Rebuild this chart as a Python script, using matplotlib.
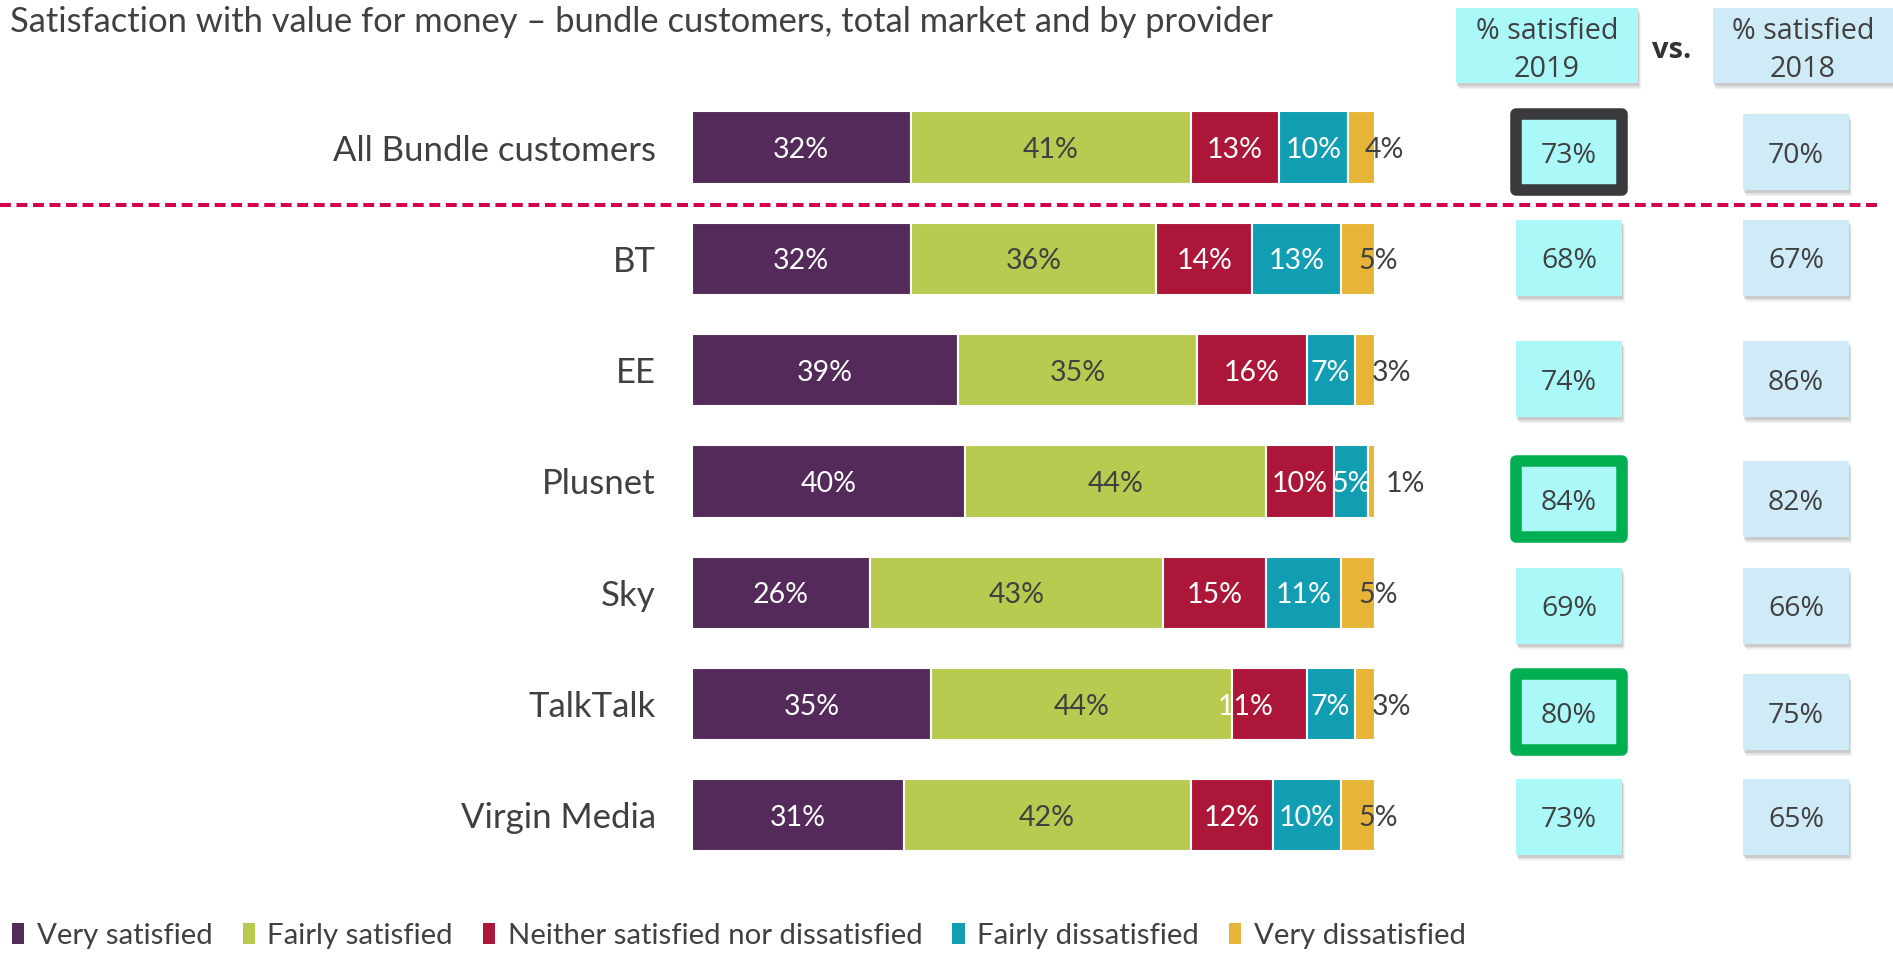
import numpy as np
import matplotlib
matplotlib.use("Agg")
import matplotlib.pyplot as plt
from matplotlib.patches import Rectangle, Patch

plt.rcParams['font.family'] = ['Lato', 'DejaVu Sans']

# data
categories = ["All Bundle customers", "BT", "EE", "Plusnet", "Sky", "TalkTalk", "Virgin Media"]
very_sat = [32, 32, 39, 40, 26, 35, 31]
fairly_sat = [41, 36, 35, 44, 43, 44, 42]
neither = [13, 14, 16, 10, 15, 11, 12]
fairly_dis = [10, 13, 7, 5, 11, 7, 10]
very_dis = [4, 5, 3, 1, 5, 3, 5]
sat_2019 = [73, 68, 74, 84, 69, 80, 73]
sat_2018 = [70, 67, 86, 82, 66, 75, 65]
series_names = ["Very satisfied", "Fairly satisfied", "Neither satisfied nor dissatisfied",
                "Fairly dissatisfied", "Very dissatisfied"]
title = "Satisfaction with value for money \u2013 bundle customers, total market and by provider"

colors = ["#532A5A", "#B8CB50", "#AC1639", "#119DB2", "#E6B437"]
label_colors = ["white", "#404040", "white", "white", "#404040"]
txt = "#404040"
cyan = "#AAF8F8"
light_blue = "#D0EBF8"
highlight = {0: "#3A3A3C", 3: "#00B050", 5: "#00B050"}

W, H = 1893, 958
fig = plt.figure(figsize=(W / 100, H / 100), dpi=100)

# bar axes, layout in pixels
row_top, row_step = 147.5, 111.33
y_top = row_top - row_step / 2
y_bot = row_top + 6 * row_step + row_step / 2
ax = fig.add_axes([692 / W, 1 - y_bot / H, (1375 - 692) / W, (y_bot - y_top) / H])

series = [very_sat, fairly_sat, neither, fairly_dis, very_dis]
y = np.arange(len(categories))
left = np.zeros(len(categories))
nudge = {(5, 2): -3.5}
for j, vals in enumerate(series):
    vals = np.array(vals, dtype=float)
    ax.barh(y, vals, left=left, height=0.647, color=colors[j], edgecolor="white", linewidth=1.5)
    for i, v in enumerate(vals):
        if j == 4:
            ax.text(left[i] + 2.5, i, f"{v:.0f}%", ha="left", va="center_baseline",
                    fontsize=20.5, color=label_colors[j], clip_on=False)
        else:
            ax.text(left[i] + v / 2 + nudge.get((i, j), 0), i, f"{v:.0f}%", ha="center",
                    va="center_baseline", fontsize=20.5, color=label_colors[j])
    left += vals

ax.set_xlim(0, 100)
ax.set_ylim(6.5, -0.5)
ax.set_yticks(y, categories, fontsize=25, color=txt)
ax.tick_params(axis="y", length=0, pad=26)
ax.set_xticks([])
for s in ax.spines.values():
    s.set_visible(False)
ax.patch.set_visible(False)

# overlay axes for boxes, x in pixels, y in rows
bx = fig.add_axes([0, 1 - y_bot / H, 1, (y_bot - y_top) / H])
bx.set_xlim(0, W)
bx.set_ylim(6.5, -0.5)
bx.axis("off")
bx.patch.set_visible(False)

px = 1 / row_step  # one pixel in row units


def box(cx, cy, w, h, face, edge=None, lw=0):
    # soft shadow
    for k, a in [(5, 0.10), (3.5, 0.15), (2, 0.25)]:
        bx.add_patch(Rectangle((cx - w / 2 + k * 0.6, cy - h / 2 * px + k * px + 1 * px),
                               w, h * px, facecolor="#888888", edgecolor="none",
                               alpha=a, clip_on=False, zorder=1))
    bx.add_patch(Rectangle((cx - w / 2, cy - h / 2 * px), w, h * px, facecolor=face,
                           edgecolor=edge if edge else "none", linewidth=lw,
                           joinstyle="round", clip_on=False, zorder=2))


box_dy = [4.5, -1, 9, 18, 13, 8, 1.5]  # vertical offsets of boxes vs bars (px)
for i in range(len(categories)):
    cy = i + box_dy[i] * px
    if i in highlight:
        box(1569, cy, 106.5, 76, cyan, highlight[i], 8.3)
    else:
        box(1569, cy, 106, 76, cyan)
    box(1796, cy, 106, 76, light_blue)
    bx.text(1569, cy, f"{sat_2019[i]}%", ha="center", va="center_baseline", fontsize=20.5,
            color=txt, family="Open Sans", zorder=3, clip_on=False)
    bx.text(1796, cy, f"{sat_2018[i]}%", ha="center", va="center_baseline", fontsize=20.5,
            color=txt, family="Open Sans", zorder=3, clip_on=False)

# headers
hy = -0.5 - (y_top - 45.5) * px
box(1547, hy, 182, 75, cyan)
box(1803, hy, 180, 75, light_blue)
for cx, yr in [(1547, "2019"), (1803, "2018")]:
    bx.text(cx, hy + 5 * px, "% satisfied\n" + yr, ha="center", va="center", fontsize=20.7,
            color=txt, family="Open Sans", linespacing=1.42, zorder=3, clip_on=False)
bx.text(1672, -0.5 - (y_top - 50) * px, "vs.", ha="center", va="center", fontsize=21,
        fontweight="bold", color="#333333", family="Open Sans", clip_on=False)

# dashed separator
bx.plot([0, 1880], [0.52, 0.52], color="#D2004F", linewidth=2.9,
        linestyle=(0, (2.7, 1.4)), clip_on=False, zorder=0)

fig.text(10 / W, 1 - 22 / H, title, ha="left", va="center", fontsize=24.8, color=txt)

handles = [Patch(facecolor=c) for c in colors]
fig.legend(handles, series_names, loc="center left", bbox_to_anchor=(12 / W, 1 - 936 / H),
           ncol=5, frameon=False, fontsize=21.2, handlelength=0.42, handleheight=0.7,
           handletextpad=0.42, columnspacing=1.02, borderpad=0, borderaxespad=0,
           labelcolor=txt)

fig.savefig("out.png", dpi=100)
